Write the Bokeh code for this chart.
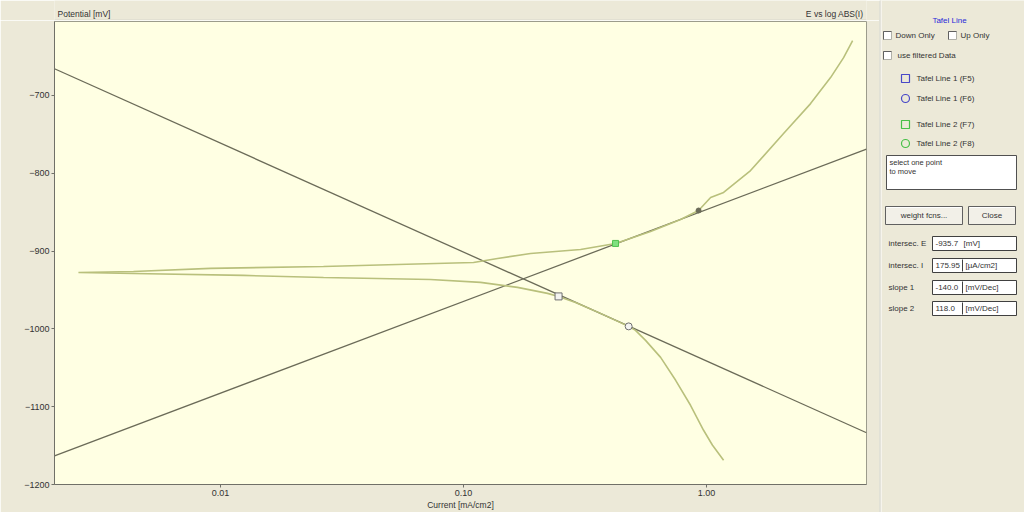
from bokeh.plotting import figure
from bokeh.models import Range1d, FixedTicker, CustomJSTickFormatter
from bokeh.layouts import row, column
from bokeh.embed import file_html
from bokeh.resources import INLINE
from bokeh.core.properties import value

# ---- measured polarisation curve (current in mA/cm2, potential in mV) ----
current_mA = [1.175, 1.058, 0.972, 0.859, 0.746, 0.647, 0.561, 0.510, 0.478, 0.366,
              0.289, 0.246, 0.2216, 0.1668, 0.1175, 0.0731, 0.02654, 0.01243, 0.004385, 0.002603,
              0.004385, 0.009095, 0.02654, 0.05352, 0.1099, 0.1380, 0.1887, 0.3030, 0.4221, 0.5883,
              0.7816, 0.9270, 1.039, 1.175, 1.517, 2.074, 2.679, 3.237, 3.663, 3.990]
potential_mV = [-1168.8, -1149.6, -1130.3, -1098.2, -1066.1, -1036.6, -1014.8, -1001.9, -996.8, -980.1,
                -966.0, -958.3, -954.4, -946.7, -940.3, -936.5, -933.9, -931.3, -928.8, -927.5,
                -926.2, -922.3, -919.8, -917.2, -914.7, -909.5, -903.1, -898.0, -890.2, -874.8,
                -859.4, -847.9, -831.2, -824.7, -796.5, -749.0, -710.5, -677.1, -651.5, -629.7]

# ---- Tafel fit lines (end points across the plotted range) ----
tafel1_i = [0.002075, 4.55]
tafel1_E = [-665.7, -1133.5]
tafel2_i = [0.002075, 4.55]
tafel2_E = [-1163.3, -769.0]

# ---- selected fit points ----
line1_sq_i, line1_sq_E = [0.246], [-958.3]
line1_ci_i, line1_ci_E = [0.478], [-996.8]
line2_sq_i, line2_sq_E = [0.4221], [-890.2]
line2_ci_i, line2_ci_E = [0.927], [-847.9]

x_ticks = [0.01, 0.1, 1.0]
y_ticks = [-1200, -1100, -1000, -900, -800, -700]

# ---- results ----
res_labels = ["intersec. E", "intersec. I", "slope 1", "slope 2"]
res_values = ["-935.7", "175.95", "-140.0", "118.0"]
res_units = ["[mV]", "[µA/cm2]", "[mV/Dec]", "[mV/Dec]"]

FONT_NAME = "Liberation Sans"
FONT = value(FONT_NAME)
BG = "#ECE9D8"
TXT = "#333333"


def blank(w, h, xr, yr):
    f = figure(width=w, height=h, x_range=Range1d(*xr), y_range=Range1d(*yr),
               output_backend="svg", toolbar_location=None,
               x_axis_location=None, y_axis_location=None,
               min_border_left=0, min_border_right=0, min_border_top=0, min_border_bottom=0)
    f.background_fill_color = BG
    f.border_fill_color = BG
    f.outline_line_color = None
    f.grid.visible = False
    return f


def txt(f, x, y, s, color=TXT, align="left", size="8px"):
    f.text([x], [y], text=[s], text_font=FONT, text_font_size=size, text_color=color,
           text_align=align, text_baseline="middle")


# ---- top strip above the plot (its frame lines up with the plot frame, x 54..866) ----
t = blank(879, 20, (54, 866), (20, 0))
t.segment([54], [19.5], [866], [19.5], color="#D8D6CC")
txt(t, 57, 13, "Potential [mV]", size="8.5px")
txt(t, 863, 13, "E vs log ABS(I)", align="right", size="8.5px")

# ---- main plot ----
p = figure(width=879, height=492, x_axis_type="log",
           x_range=Range1d(0.002075, 4.55), y_range=Range1d(-1200, -605),
           output_backend="svg", toolbar_location=None,
           min_border_left=54, min_border_right=13, min_border_top=1, min_border_bottom=28)
p.background_fill_color = "#FFFFE3"
p.border_fill_color = BG
p.outline_line_color = "#9C9C8C"
p.grid.visible = False

p.xaxis.ticker = FixedTicker(ticks=x_ticks, minor_ticks=[])
p.xaxis.formatter = CustomJSTickFormatter(code="return tick.toFixed(2);")
p.yaxis.ticker = FixedTicker(ticks=y_ticks, minor_ticks=[])
for ax in (p.xaxis[0], p.yaxis[0]):
    ax.axis_line_color = "#707068"
    ax.major_tick_line_color = "#707068"
    ax.major_tick_out = 3
    ax.major_tick_in = 0
    ax.minor_tick_line_color = None
    ax.major_label_text_font = FONT_NAME
    ax.major_label_text_font_size = "9px"
    ax.major_label_text_color = TXT
    ax.major_label_standoff = 2
p.xaxis.axis_label = "Current [mA/cm2]"
p.xaxis.axis_label_standoff = 1
p.xaxis.axis_label_text_font = FONT_NAME
p.xaxis.axis_label_text_font_size = "8.5px"
p.xaxis.axis_label_text_font_style = "normal"
p.xaxis.axis_label_text_color = TXT

p.line(tafel1_i, tafel1_E, color="#6B6B58", line_width=1.3)
p.line(tafel2_i, tafel2_E, color="#6B6B58", line_width=1.3)
p.line(current_mA, potential_mV, color="#B9C07C", line_width=1.6)

p.scatter(line1_sq_i, line1_sq_E, marker="square", size=7, fill_color="#F4F4F0", line_color="#707070")
p.scatter(line1_ci_i, line1_ci_E, marker="circle", size=7, fill_color="#F4F4F0", line_color="#707070")
p.scatter(line2_sq_i, line2_sq_E, marker="square", size=6, fill_color="#80E080", line_color="#50C050")
p.scatter(line2_ci_i, line2_ci_E, marker="circle", size=5, fill_color="#6B6B58", line_color="#6B6B58")

# ---- side panel (page-pixel coordinates) ----
q = blank(145, 512, (879, 1024), (512, 0))
q.segment([879.5], [0], [879.5], [512], color="#A8A898", line_width=1)
q.segment([880.5], [0], [880.5], [512], color="#FFFFFF", line_width=1)


def checkbox(x, y):
    q.quad(left=[x], right=[x + 8], top=[y - 4], bottom=[y + 4], fill_color="white",
           line_color="#B0B0A8")
    q.segment([x, x], [y - 4, y - 4], [x + 8, x], [y - 4, y + 4], color="#606060")


txt(q, 949, 20, "Tafel Line", color="#2828D8", align="center")
checkbox(883, 35); txt(q, 895, 35, "Down Only")
checkbox(948, 35); txt(q, 960, 35, "Up Only")
checkbox(883, 55); txt(q, 897, 55, "use filtered Data")

legend_rows = [(78, "square", "#4848C8", "Tafel Line 1 (F5)"),
               (98, "circle", "#4848C8", "Tafel Line 1 (F6)"),
               (124, "square", "#48C048", "Tafel Line 2 (F7)"),
               (143, "circle", "#48C048", "Tafel Line 2 (F8)")]
for y, mk, col, s in legend_rows:
    q.scatter([905], [y], marker=mk, size=8, fill_color=BG, line_color=col, line_width=1.2)
    txt(q, 916, y, s)

q.quad(left=[886], right=[1016], top=[155], bottom=[189], fill_color="white", line_color="#505050")
txt(q, 889, 162, "select one point", size="7.5px")
txt(q, 889, 171, "to move", size="7.5px")

for l, r, s in [(885, 962, "weight fcns..."), (968, 1015, "Close")]:
    q.quad(left=[l], right=[r], top=[206], bottom=[224], fill_color="#F2F0E8", line_color="#606060")
    q.segment([l + 1], [207], [r - 1], [207], color="white")
    txt(q, (l + r) / 2, 215, s, align="center")

row_y = [243, 265, 287, 308]
for i, (lab, val, unit) in enumerate(zip(res_labels, res_values, res_units)):
    y = row_y[i]
    txt(q, 888, y, lab)
    q.quad(left=[932], right=[1016], top=[y - 7], bottom=[y + 7], fill_color="white", line_color="#404040")
    if i > 0:
        q.segment([962], [y - 6], [962], [y + 6], color="#404040")
    txt(q, 935, y, val)
    txt(q, 965 if i > 0 else 963, y, unit)

layout = row(column(t, p), q)
open("out.html", "w").write(file_html(layout, INLINE))
